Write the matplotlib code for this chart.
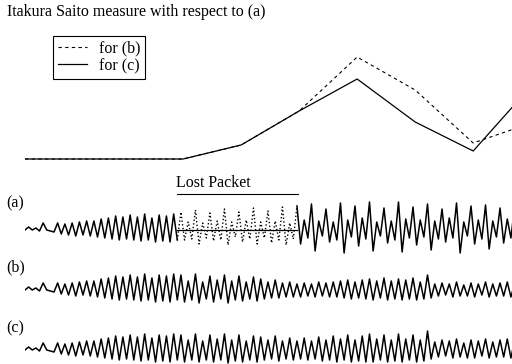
import numpy as np
import matplotlib
matplotlib.use("Agg")
import matplotlib.pyplot as plt

plt.rcParams['font.family'] = ['Liberation Serif', 'DejaVu Serif']

# ---------------- data ----------------
# Itakura-Saito measure (per frame, frame = 160 samples)
is_time = [0, 436, 596, 756, 916, 1076, 1236, 1396]
is_b = [0.0, 0.0, 0.14, 0.48, 1.02, 0.69, 0.16, 0.36]
is_c = [0.0, 0.0, 0.14, 0.48, 0.80, 0.37, 0.08, 0.73]

STEP = 10            # samples between stored waveform values
LOST = (420, 750)    # lost packet (samples)

pre = [0, 3, 0, 2, -1, 7, 0, -1, -2,
       7, -4, 6, -5, 7, -6, 8, -5, 9, -6, 9, -7,
       11, -8, 12, -9, 14, -10, 13, -9, 15, -10,
       13, -11, 16, -10, 12, -12, 15, -11, 14, -12, 16, -10]

a_lost_orig = [18, -10, 8, -9, 20, -14, 7, -8, 17, -11, 9, -10, 21, -15, 8, -7,
               18, -12, 10, -9, 22, -14, 8, -8, 19, -13, 9, -10, 23, -15, 7, -9]

a_post = [24, -14, 10, -8, 26, -21, 9, -6, 21, -12, 8, -10, 27, -23, 10, -7,
          24, -16, 12, -9, 28, -21, 8, -6, 22, -13, 9, -10, 28, -22, 11, -8,
          23, -15, 10, -7, 26, -20, 9, -9, 21, -12, 12, -8, 27, -23, 8, -6,
          24, -14, 10, -9, 25, -19, 9, -7, 22, -13, 11, -8, 23]

b_post = [15, -12, 9, -10, 16, -13, 8, -9, 14, -12, 10, -9, 15, -13, 9, -10, 14, -11, 8, -9, 13, -11,
          11, -9, 8, -8, 10, -8, 7, -7, 8, -7, 6, -7,
          7, -6, 6, -7, 8, -6, 7, -7, 8, -7, 9, -8, 10, -9, 8, -8, 10, -9,
          11, -10, 9, -8, 12, -10, 9, -9, 11, -10, 10, -9, 12, -10, 8, -9,
          15, -8,
          6, -6, 7, -5, 6, -7, 8, -6, 5, -6, 7, -7, 6, -5, 8, -7, 6, -6, 7, -6, 8, -7, 6]

c_post = [15, -12, 10, -10, 16, -12, 9, -10, 15, -12, 11, -10, 16, -13, 10, -11, 15, -12, 9, -10, 14, -12,
          13, -10, 10, -9, 14, -11, 9, -9, 12, -10, 9, -9,
          12, -10, 9, -9, 13, -11, 10, -10, 14, -12, 11, -10, 15, -12, 10, -11, 14, -12,
          16, -12, 11, -10, 15, -12, 10, -11, 16, -12, 11, -10, 15, -12, 10, -11,
          19, -9,
          8, -7, 10, -6, 9, -8, 11, -7, 7, -8, 10, -8, 9, -6, 11, -8, 8, -7, 10, -7, 11, -8, 9]

wave_a = np.array(pre + a_lost_orig + a_post, float)
wave_b = np.array(pre + b_post, float)
wave_c = np.array(pre + c_post, float)

# ---------------- layout ----------------
W, H = 512, 364
fig = plt.figure(figsize=(W / 100, H / 100), dpi=100)
XMAX = 1343


def px_axes(top, bottom):
    return fig.add_axes([25 / W, 1 - bottom / H, 487 / W, (bottom - top) / H])


def clean(ax):
    ax.set_axis_off()
    ax.patch.set_alpha(0)
    ax.set_xlim(0, XMAX)


FS = 11.5
LW = 1.1

# top: IS measure
ax0 = px_axes(40, 170)
clean(ax0)
ax0.set_ylim(-0.11, 1.19)
lb, = ax0.plot(is_time, is_b, color='black', lw=0.8, linestyle=(0, (3, 3)))
lc, = ax0.plot(is_time, is_c, color='black', lw=0.9)
fig.text(7 / W, 1 - 12 / H, 'Itakura Saito measure with respect to (a)',
         fontsize=FS, ha='left', va='center')
leg = fig.legend([lb, lc], ['for (b)', 'for (c)'], loc='upper left',
                 bbox_to_anchor=(53 / W, 1 - 36 / H), borderaxespad=0,
                 fancybox=False, edgecolor='black', framealpha=1, fontsize=FS,
                 handlelength=1.85, handletextpad=0.7, labelspacing=0.08,
                 borderpad=0.3)
leg.get_frame().set_linewidth(0.8)

# waveforms
t_a = np.arange(len(wave_a)) * STEP
t_b = np.arange(len(wave_b)) * STEP
t_c = np.arange(len(wave_c)) * STEP

axa = px_axes(200, 260)
clean(axa)
axa.set_ylim(-30, 30)
m_pre = t_a <= LOST[0]
m_lost = (t_a >= LOST[0]) & (t_a <= LOST[1])
m_post = t_a >= LOST[1]
axa.plot(t_a[m_pre], wave_a[m_pre], color='black', lw=LW)
axa.plot(t_a[m_lost], wave_a[m_lost], color='black', lw=1.0, linestyle=':')
axa.plot(LOST, [0, 0], color='black', lw=0.9)
axa.plot(t_a[m_post], wave_a[m_post], color='black', lw=LW)
# Lost packet marker
axa.plot([LOST[0] - 1, LOST[1] + 3], [36, 36], color='black', lw=0.8, clip_on=False)
axa.text(LOST[0] - 3, 39, 'Lost Packet', fontsize=FS, ha='left', va='bottom')

axb = px_axes(260, 320)
clean(axb)
axb.set_ylim(-30, 30)
axb.plot(t_b, wave_b, color='black', lw=LW)

axc = px_axes(320, 380)
clean(axc)
axc.set_ylim(-30, 30)
axc.plot(t_c, wave_c, color='black', lw=LW)

for lab, y in [('(a)', 203), ('(b)', 267), ('(c)', 328)]:
    fig.text(6 / W, 1 - y / H, lab, fontsize=FS, ha='left', va='center')

fig.savefig('out.png', dpi=100, facecolor='white')
